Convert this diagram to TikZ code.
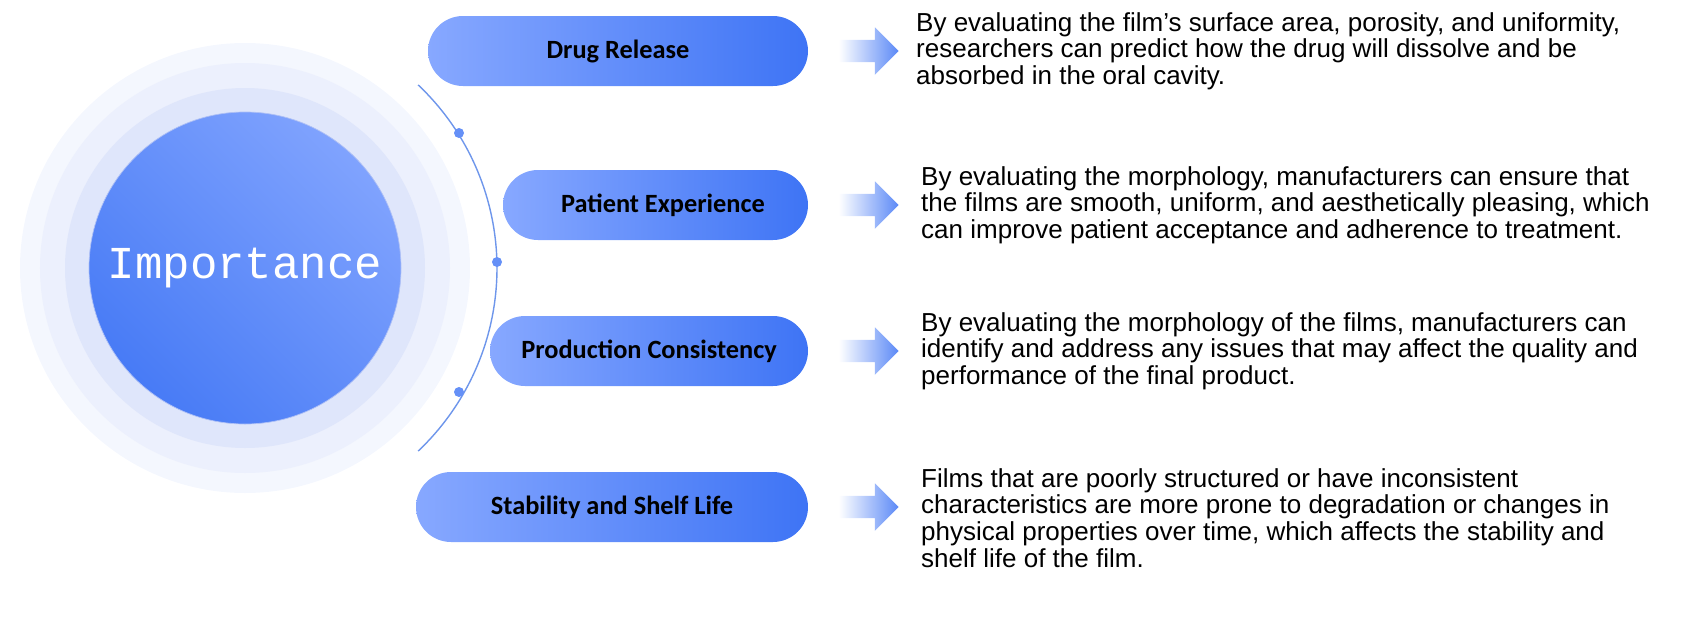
\documentclass[tikz,border=0pt]{standalone}
\usepackage{fontspec}
\setmainfont{Liberation Sans}
\newfontfamily\pillfont{Carlito}
\newfontfamily\hubfont{Liberation Mono}
\usetikzlibrary{shapes.arrows, positioning}
\definecolor{pilllight}{RGB}{135, 168, 255}
\definecolor{pilldark}{RGB}{62, 116, 245}
\definecolor{ringblue}{RGB}{120, 150, 240}
\definecolor{arcblue}{RGB}{110, 150, 235}

\tikzset{
  pill/.style={rounded corners=0.7cm, minimum height=1.4cm, left color=pilllight,
    right color=pilldark, font=\pillfont\bfseries\fontsize{15}{18}\selectfont, text=black},
  blockarrow/.style={single arrow, minimum height=1.2cm, minimum width=0.95cm,
    single arrow head extend=0.14cm, left color=white, right color=pilldark!85, draw=none},
  desc/.style={anchor=west, align=left, font=\fontsize{14.8}{15.2}\selectfont},
  dot/.style={circle, fill=pilldark!80, inner sep=0pt, minimum size=0.2cm}
}

\begin{document}
\begin{tikzpicture}
  % Rings round the hub
  \coordinate (hub) at (4.9,6.98);
  \fill[ringblue!8] (hub) circle (4.5);
  \fill[ringblue!14] (hub) circle (4.1);
  \fill[ringblue!24] (hub) circle (3.6);
  \shade[left color=pilllight!90!pilldark, right color=pilldark!95, shading angle=-45,
    draw=ringblue!60] (hub) circle (3.12);
  \node[inner sep=0pt, font=\hubfont\fontsize{26}{28}\selectfont, text=white] (core) at (hub) {Importance};

  % Arc with dots
  \draw[arcblue, thick] (hub) ++(46.6:5.04) arc (46.6:-46.6:5.04);
  \node[dot] (d1) at (9.18,9.68) {};
  \node[dot] (d2) at (9.94,7.10) {};
  \node[dot] (d3) at (9.18,4.50) {};

  % Pills
  \node[pill, minimum width=7.6cm] (rel) at (12.36,11.32) {Drug Release};
  \node[pill, minimum width=6.1cm] (pat) at (13.11,8.24) {\hspace*{0.3cm}Patient Experience};
  \node[pill, minimum width=6.36cm] (pro) at (12.98,5.32) {Production Consistency};
  \node[pill, minimum width=7.84cm] (sta) at (12.24,2.20) {Stability and Shelf Life};

  % Arrows
  \node[blockarrow, right=0.6cm of rel] (arel) {};
  \node[blockarrow, right=0.6cm of pat] (apat) {};
  \node[blockarrow, right=0.6cm of pro] (apro) {};
  \node[blockarrow, right=0.6cm of sta] (asta) {};

  % Descriptions
  \node[desc] (trel) at (18.2,11.32) {By evaluating the film's surface area, porosity, and uniformity,\\
    researchers can predict how the drug will dissolve and be\\ absorbed in the oral cavity.};
  \node[desc] (tpat) at (18.3,8.24) {By evaluating the morphology, manufacturers can ensure that\\
    the films are smooth, uniform, and aesthetically pleasing, which\\
    can improve patient acceptance and adherence to treatment.};
  \node[desc] (tpro) at (18.3,5.32) {By evaluating the morphology of the films, manufacturers can\\
    identify and address any issues that may affect the quality and\\ performance of the final product.};
  \node[desc] (tsta) at (18.3,1.98) {Films that are poorly structured or have inconsistent\\
    characteristics are more prone to degradation or changes in\\
    physical properties over time, which affects the stability and\\ shelf life of the film.};

  \pgfresetboundingbox
  \useasboundingbox (0,0) rectangle (34.12,12.34);
\end{tikzpicture}
\end{document}
